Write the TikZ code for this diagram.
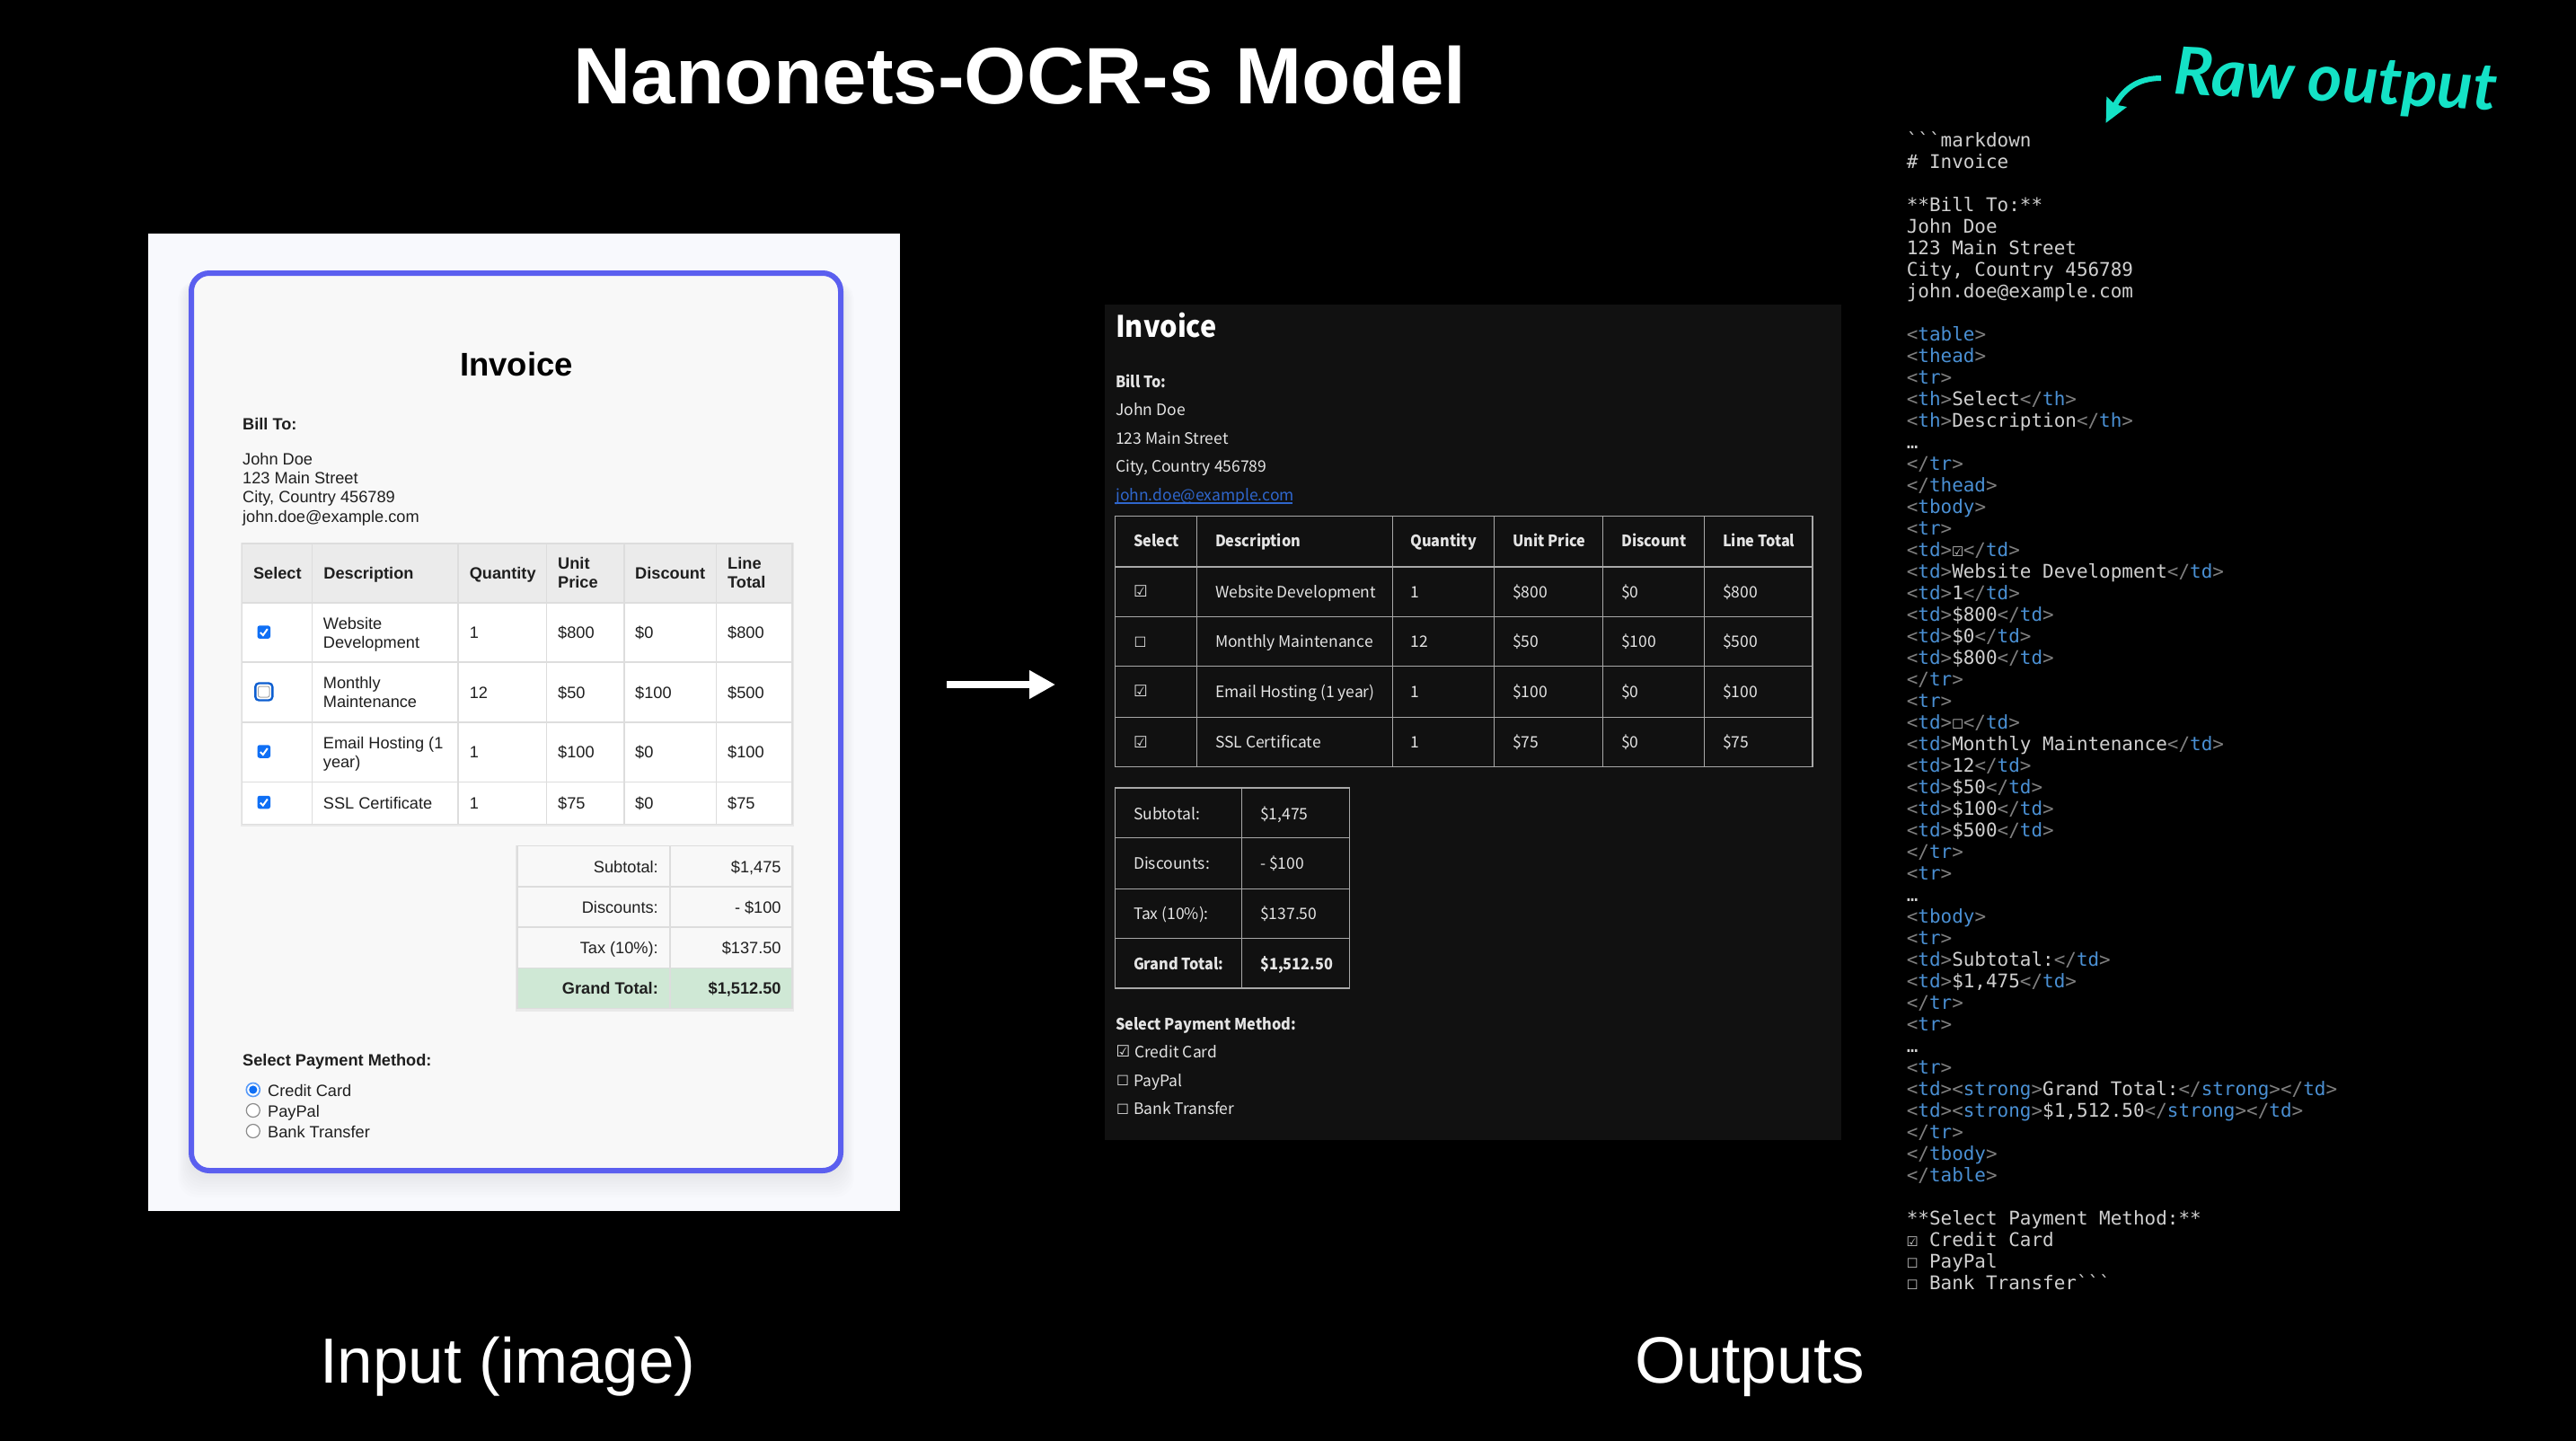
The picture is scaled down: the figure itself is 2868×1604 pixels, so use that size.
\documentclass[tikz,border=0pt]{standalone}
\usepackage{fontspec}
\usetikzlibrary{arrows.meta,calc}
\setmainfont{Liberation Sans}
\newfontfamily\darkfont{Noto Sans CJK SC}
\newcommand\darkmed{\darkfont\bfseries\addfontfeature{FakeStretch=0.93}}
\newfontfamily\codefont{DejaVu Sans Mono}
\newfontfamily\symfont{DejaVu Sans}
\newfontfamily\handfont{Lato}
\definecolor{panelbg}{HTML}{F8F9FD}
\definecolor{cardbg}{HTML}{F8F8F8}
\definecolor{cardline}{HTML}{5B5FEF}
\definecolor{gridlight}{HTML}{DDDDDD}
\definecolor{headfill}{HTML}{EBEBEB}
\definecolor{grandfill}{HTML}{CFE8D5}
\definecolor{inkdark}{HTML}{111111}
\definecolor{boxblue}{HTML}{0F6FF5}
\definecolor{griddark}{HTML}{A8A8A8}
\definecolor{darktext}{HTML}{E4E4E4}
\definecolor{linkblue}{HTML}{2F66CC}
\definecolor{codetext}{HTML}{D0D0D0}
\definecolor{codetag}{HTML}{4A90D4}
\definecolor{codegrey}{HTML}{808080}
\definecolor{teal}{HTML}{14E2C6}
\tikzset{
  lt/.style={anchor=base west,inner sep=0pt,text=black!88,font=\fontsize{18.2}{21}\selectfont},
  ltb/.style={lt,font=\fontsize{18.2}{21}\selectfont\bfseries},
  lr/.style={anchor=base east,inner sep=0pt,text=black!88,font=\fontsize{18.2}{21}\selectfont},
  lrb/.style={lr,font=\fontsize{18.2}{21}\selectfont\bfseries},
  dk/.style={anchor=base west,inner sep=0pt,text=darktext,font=\darkfont\fontsize{17.5}{22}\selectfont},
  dkb/.style={dk,font=\fontsize{17.5}{22}\selectfont\darkmed},
  dksym/.style={anchor=center,inner sep=0pt,text=darktext,font=\symfont\fontsize{17.5}{20}\selectfont},
  dkempty/.style={dksym,font=\symfont\fontsize{15.5}{20}\selectfont},
  codeline/.style={anchor=base west,inner sep=0pt,text=codetext,font=\codefont\fontsize{20.95}{24}\selectfont},
  headline/.style={anchor=base west,inner sep=0pt,text=white},
  radiobox/.style={circle,minimum size=15pt,inner sep=0pt,fill=white,draw=black!45,line width=1.2pt},
  gridl/.style={draw=gridlight,line width=1.5pt},
  gridd/.style={draw=griddark,line width=1.3pt},
}
\newcommand\tagA[1]{\textcolor{codegrey}{<}\textcolor{codetag}{#1}\textcolor{codegrey}{>}}
\newcommand\tagB[1]{\textcolor{codegrey}{</}\textcolor{codetag}{#1}\textcolor{codegrey}{>}}
\newcommand\cl[2]{\node[codeline] (code#1) at (2122.6,{163.2+24*(#1-1)}) {#2};}
\newcommand\bluecheck[3]{%
  \node[rectangle,rounded corners=2.5pt,minimum size=14.5pt,inner sep=0pt,fill=boxblue] (#1) at (#2,#3) {};
  \draw[white,line width=2pt] ($(#1.center)+(-4,0.5)$) -- ($(#1.center)+(-1,3.5)$) -- ($(#1.center)+(4,-3.5)$);}
\begin{document}
\begin{tikzpicture}[x=1pt,y=-1pt]
\fill[black] (0,0) rectangle (2868,1604);
\useasboundingbox (0,0) rectangle (2868,1604);
% titles
\node[headline,font=\fontsize{89}{96}\selectfont\bfseries] (title) at (638.5,115.7) {Nanonets-OCR-s Model};
\node[headline,font=\fontsize{71}{80}\selectfont] (inlabel) at (356,1539.3) {Input (image)};
\node[headline,font=\fontsize{73}{80}\selectfont] (outlabel) at (1820,1539.3) {Outputs};
% input panel
\fill[panelbg] (165,260) rectangle (1002,1348);
\foreach \k in {1,...,10}{
  \fill[black,opacity=0.006,rounded corners=22pt] ({213-\k*1.5},{312}) rectangle ({936+\k*1.5},{1303+\k*3});
}
\draw[cardline,fill=cardbg,line width=6pt,rounded corners=20pt] (213,304) rectangle (936,1303);
\node[anchor=center,inner sep=0pt,text=black,font=\fontsize{36.5}{40}\selectfont\bfseries] (invtitle) at (575,405) {Invoice};
\node[ltb] (billto) at (270,478) {Bill To:};
\node[lt] (a1) at (270,517) {John Doe};
\node[lt] (a2) at (270,538) {123 Main Street};
\node[lt] (a3) at (270,559.5) {City, Country 456789};
\node[lt] (a4) at (270,581) {john.doe@example.com};
% light item table
\fill[black,opacity=0.06] (267.5,604) rectangle (884,920);
\fill[headfill] (269.7,605) rectangle (881.9,671);
\fill[white] (269.7,671) rectangle (881.9,917.4);
\draw[gridl] (269.7,605) rectangle (881.9,917.4);
\foreach \px in {347.6,510,608.7,694.8,797.4}{\draw[gridl] (\px,605) -- (\px,917.4);}
\foreach \py in {671,737,804,870.5}{\draw[gridl] (269.7,\py) -- (881.9,\py);}
\node[ltb] (h1) at (281.8,644) {Select};
\node[ltb] (h2) at (360.2,644) {Description};
\node[ltb] (h3) at (522.6,644) {Quantity};
\node[ltb] (h4a) at (621,633) {Unit};
\node[ltb] (h4b) at (621,654) {Price};
\node[ltb] (h5) at (707,644) {Discount};
\node[ltb] (h6a) at (810,633) {Line};
\node[ltb] (h6b) at (810,654) {Total};
\node[lt] (r1d) at (359.7,700) {Website};
\node[lt] (r1e) at (359.7,721) {Development};
\node[lt] (r1q) at (522.6,710.5) {1};
\node[lt] (r1u) at (621,710.5) {\$800};
\node[lt] (r1c) at (707,710.5) {\$0};
\node[lt] (r1t) at (810,710.5) {\$800};
\node[lt] (r2d) at (359.7,766.5) {Monthly};
\node[lt] (r2e) at (359.7,787.5) {Maintenance};
\node[lt] (r2q) at (522.6,777) {12};
\node[lt] (r2u) at (621,777) {\$50};
\node[lt] (r2c) at (707,777) {\$100};
\node[lt] (r2t) at (810,777) {\$500};
\node[lt] (r3d) at (359.7,833) {Email Hosting (1};
\node[lt] (r3e) at (359.7,854) {year)};
\node[lt] (r3q) at (522.6,843.5) {1};
\node[lt] (r3u) at (621,843.5) {\$100};
\node[lt] (r3c) at (707,843.5) {\$0};
\node[lt] (r3t) at (810,843.5) {\$100};
\node[lt] (r4d) at (359.7,900.5) {SSL Certificate};
\node[lt] (r4q) at (522.6,900.5) {1};
\node[lt] (r4u) at (621,900.5) {\$75};
\node[lt] (r4c) at (707,900.5) {\$0};
\node[lt] (r4t) at (810,900.5) {\$75};
\bluecheck{cb1}{293.8}{703.6}
\node[rectangle,rounded corners=4pt,minimum size=19pt,inner sep=0pt,fill=white,draw=boxblue!85!black,line width=2.4pt] (cb2) at (293.8,770) {};
\draw[black!35,line width=1pt,rounded corners=2pt] (287.5,764) rectangle (300,776);
\bluecheck{cb3}{293.8}{836.5}
\bluecheck{cb4}{293.8}{893}
% light summary table
\fill[black,opacity=0.06] (574,940.5) rectangle (884,1125.5);
\fill[grandfill] (575.8,1077.7) rectangle (881.9,1122.7);
\fill[cardbg] (575.8,941.7) rectangle (881.9,1077.7);
\draw[gridl] (575.8,941.7) rectangle (881.9,1122.7);
\draw[gridl] (745.8,941.7) -- (745.8,1122.7);
\foreach \py in {987,1032,1077.7}{\draw[gridl] (575.8,\py) -- (881.9,\py);}
\node[lr] (s1) at (733,971) {Subtotal:};
\node[lr] (s1v) at (869.8,971) {\$1,475};
\node[lr] (s2) at (733,1016) {Discounts:};
\node[lr] (s2v) at (869.8,1016) {- \$100};
\node[lr] (s3) at (733,1061) {Tax (10\%):};
\node[lr] (s3v) at (869.8,1061) {\$137.50};
\node[lrb] (s4) at (733,1106.5) {Grand Total:};
\node[lrb] (s4v) at (869.8,1106.5) {\$1,512.50};
\node[ltb] (pay) at (270,1186) {Select Payment Method:};
\node[radiobox,draw=boxblue!70,line width=1.6pt] (rd1) at (281.8,1213) {};
\fill[boxblue] (rd1.center) circle (4.6pt);
\node[radiobox] (rd2) at (281.8,1236) {};
\node[radiobox] (rd3) at (281.8,1259) {};
\node[lt] (p1) at (298,1220) {Credit Card};
\node[lt] (p2) at (298,1243) {PayPal};
\node[lt] (p3) at (298,1266) {Bank Transfer};
% arrow
\coordinate (arrowfrom) at (1054,762);
\coordinate (arrowto) at (1175,762);
\draw[white,line width=8pt,-{Triangle[length=29pt,width=30pt]}] (arrowfrom) -- (arrowto);
% dark panel
\fill[inkdark] (1230,339) rectangle (2050,1269);
\node[anchor=base west,inner sep=0pt,text=white,font=\fontsize{33}{38}\selectfont\darkmed] (dinv) at (1242,375.5) {Invoice};
\node[dkb] (dbill) at (1242,431) {Bill To:};
\node[dk] (d1) at (1242,462.5) {John Doe};
\node[dk] (d2) at (1242,494) {123 Main Street};
\node[dk] (d3) at (1242,525.5) {City, Country 456789};
\node[dk,text=linkblue] (d4) at (1242,557) {john.doe@example.com};
\draw[linkblue,line width=1.2pt] (1241.4,560) -- (1439,560);
\draw[gridd] (1241.4,574.5) rectangle (2018,853.8);
\foreach \px in {1332.5,1550.5,1663.5,1784.5,1897.6}{\draw[gridd] (\px,574.5) -- (\px,853.8);}
\foreach \py in {631,686.7,741.8,798.7}{\draw[gridd] (1241.4,\py) -- (2018,\py);}
\node[dkb] (dh1) at (1261.8,608.5) {Select};
\node[dkb] (dh2) at (1352.8,608.5) {Description};
\node[dkb] (dh3) at (1570.3,608.5) {Quantity};
\node[dkb] (dh4) at (1683.8,608.5) {Unit Price};
\node[dkb] (dh5) at (1805,608.5) {Discount};
\node[dkb] (dh6) at (1918,608.5) {Line Total};
\node[dksym] (db1) at (1270,658.5) {☑};
\node[dk] (dr1d) at (1352.8,665) {Website Development};
\node[dk] (dr1q) at (1570.3,665) {1};
\node[dk] (dr1u) at (1683.8,665) {\$800};
\node[dk] (dr1c) at (1805,665) {\$0};
\node[dk] (dr1t) at (1918,665) {\$800};
\node[dkempty] (db2) at (1269.5,715) {☐};
\node[dk] (dr2d) at (1352.8,720.5) {Monthly Maintenance};
\node[dk] (dr2q) at (1570.3,720.5) {12};
\node[dk] (dr2u) at (1683.8,720.5) {\$50};
\node[dk] (dr2c) at (1805,720.5) {\$100};
\node[dk] (dr2t) at (1918,720.5) {\$500};
\node[dksym] (db3) at (1270,769.5) {☑};
\node[dk] (dr3d) at (1352.8,776.5) {Email Hosting (1 year)};
\node[dk] (dr3q) at (1570.3,776.5) {1};
\node[dk] (dr3u) at (1683.8,776.5) {\$100};
\node[dk] (dr3c) at (1805,776.5) {\$0};
\node[dk] (dr3t) at (1918,776.5) {\$100};
\node[dksym] (db4) at (1270,826) {☑};
\node[dk] (dr4d) at (1352.8,832.5) {SSL Certificate};
\node[dk] (dr4q) at (1570.3,832.5) {1};
\node[dk] (dr4u) at (1683.8,832.5) {\$75};
\node[dk] (dr4c) at (1805,832.5) {\$0};
\node[dk] (dr4t) at (1918,832.5) {\$75};
\draw[gridd] (1241.4,877) rectangle (1502.8,1100);
\draw[gridd] (1382.8,877) -- (1382.8,1100);
\foreach \py in {932.7,989.3,1044.7}{\draw[gridd] (1241.4,\py) -- (1502.8,\py);}
\node[dk] (ds1) at (1261.8,912) {Subtotal:};
\node[dk] (ds1v) at (1403,912) {\$1,475};
\node[dk] (ds2) at (1261.8,967.5) {Discounts:};
\node[dk] (ds2v) at (1403,967.5) {- \$100};
\node[dk] (ds3) at (1261.8,1023.5) {Tax (10\%):};
\node[dk] (ds3v) at (1403,1023.5) {\$137.50};
\node[dkb] (ds4) at (1261.8,1079) {Grand Total:};
\node[dkb] (ds4v) at (1403,1079) {\$1,512.50};
\node[dkb] (dpay) at (1242,1146) {Select Payment Method:};
\node[dksym] (dp1b) at (1250.5,1170) {☑};
\node[dk] (dp1) at (1263,1177) {Credit Card};
\node[dkempty] (dp2b) at (1250,1203) {☐};
\node[dk] (dp2) at (1262,1209) {PayPal};
\node[dkempty] (dp3b) at (1250,1235) {☐};
\node[dk] (dp3) at (1262,1240.5) {Bank Transfer};
% raw output
\node[anchor=base west,inner sep=0pt,text=teal,rotate=-3,font=\handfont\itshape\bfseries\fontsize{73}{78}\selectfont] (raw) at (2419,104) {Raw output};
\coordinate (rawfrom) at (2406,87);
\coordinate (rawto) at (2344.5,137);
\draw[teal,line width=6pt,-{Stealth[length=26pt,width=24pt,inset=3pt]}] (rawfrom) .. controls (2385,87) and (2366,95) .. (rawto);
% code
\cl{1}{`{}`{}`markdown}
\cl{2}{\# Invoice}
\cl{4}{**Bill To:**}
\cl{5}{John Doe}
\cl{6}{123 Main Street}
\cl{7}{City, Country 456789}
\cl{8}{john.doe@example.com}
\cl{10}{\tagA{table}}
\cl{11}{\tagA{thead}}
\cl{12}{\tagA{tr}}
\cl{13}{\tagA{th}Select\tagB{th}}
\cl{14}{\tagA{th}Description\tagB{th}}
\cl{15}{…}
\cl{16}{\tagB{tr}}
\cl{17}{\tagB{thead}}
\cl{18}{\tagA{tbody}}
\cl{19}{\tagA{tr}}
\cl{20}{\tagA{td}☑\tagB{td}}
\cl{21}{\tagA{td}Website Development\tagB{td}}
\cl{22}{\tagA{td}1\tagB{td}}
\cl{23}{\tagA{td}\$800\tagB{td}}
\cl{24}{\tagA{td}\$0\tagB{td}}
\cl{25}{\tagA{td}\$800\tagB{td}}
\cl{26}{\tagB{tr}}
\cl{27}{\tagA{tr}}
\cl{28}{\tagA{td}☐\tagB{td}}
\cl{29}{\tagA{td}Monthly Maintenance\tagB{td}}
\cl{30}{\tagA{td}12\tagB{td}}
\cl{31}{\tagA{td}\$50\tagB{td}}
\cl{32}{\tagA{td}\$100\tagB{td}}
\cl{33}{\tagA{td}\$500\tagB{td}}
\cl{34}{\tagB{tr}}
\cl{35}{\tagA{tr}}
\cl{36}{…}
\cl{37}{\tagA{tbody}}
\cl{38}{\tagA{tr}}
\cl{39}{\tagA{td}Subtotal:\tagB{td}}
\cl{40}{\tagA{td}\$1,475\tagB{td}}
\cl{41}{\tagB{tr}}
\cl{42}{\tagA{tr}}
\cl{43}{…}
\cl{44}{\tagA{tr}}
\cl{45}{\tagA{td}\tagA{strong}Grand Total:\tagB{strong}\tagB{td}}
\cl{46}{\tagA{td}\tagA{strong}\$1,512.50\tagB{strong}\tagB{td}}
\cl{47}{\tagB{tr}}
\cl{48}{\tagB{tbody}}
\cl{49}{\tagB{table}}
\cl{51}{**Select Payment Method:**}
\cl{52}{☑ Credit Card}
\cl{53}{☐ PayPal}
\cl{54}{☐ Bank Transfer`{}`{}`}
\end{tikzpicture}
\end{document}
